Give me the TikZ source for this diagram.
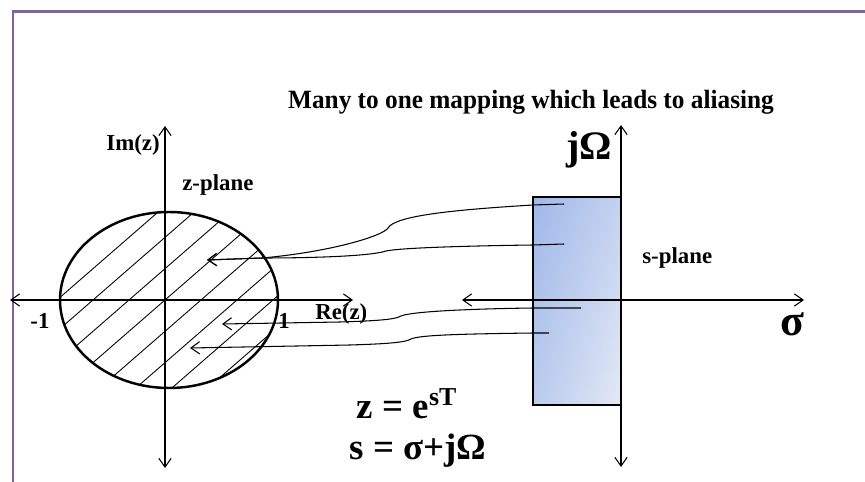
\documentclass[tikz,border=0pt]{standalone}
\usepackage{fontspec}
\setmainfont{Liberation Serif}
\usetikzlibrary{arrows.meta,shadings}
\definecolor{framepurple}{HTML}{8064A2}
\definecolor{bluetl}{HTML}{A0B8E8}
\definecolor{bluetr}{HTML}{C4D2F0}
\definecolor{bluebl}{HTML}{BACBEE}
\definecolor{bluebr}{HTML}{E3E9F6}
\tikzset{
  lbl/.style={font=\bfseries\fontsize{13}{15}\selectfont, inner sep=0pt},
  biglbl/.style={font=\bfseries\fontsize{21}{24}\selectfont, inner sep=0pt},
  axis/.style={line width=0.6pt, <->},
  maparrow/.style={line width=0.6pt, ->},
}
\begin{document}
\begin{tikzpicture}[x=0.02cm, y=-0.02cm, >={Straight Barb[length=5pt, width=7pt]}]
    \useasboundingbox (0,0) rectangle (865,482);

    % ===== FRAME =====
    \draw[framepurple, line width=1.7pt] (13,482) -- (13,12) -- (865,12);

    \node[lbl, font=\bfseries\fontsize{15}{17}\selectfont, xscale=0.96] (title) at (531,102)
        {Many to one mapping which leads to aliasing};

    % ===== Z-PLANE =====
    \def\zx{165}
    \def\zy{300}

    % tratteggio dentro il cerchio unitario
    \begin{scope}
        \clip (169,\zy) ellipse [x radius=109, y radius=88];
        \foreach \c in {-3,...,4} {
            \draw[line width=0.5pt] ({\zx+36*\c-120}, {\zy+0.87*120}) -- ({\zx+36*\c+120}, {\zy-0.87*120});
        }
    \end{scope}
    \draw[line width=1.4pt] (169,\zy) ellipse [x radius=109, y radius=88];

    \draw[axis] (10,\zy) -- (353,\zy);
    \draw[axis] (\zx,468) -- (\zx,126);

    \node[lbl, anchor=east] (imz) at (160,145) {Im(z)};
    \node[lbl, anchor=west] (zplane) at (182,185) {z-plane};
    \node[lbl] (mone) at (40,321) {-1};
    \node[lbl] (one) at (284,321) {1};
    \node[lbl, anchor=west] (rez) at (315,314) {Re(z)};

    % ===== S-PLANE =====
    \def\sx{621}

    \shade[upper left=bluetl, upper right=bluetr, lower left=bluebl, lower right=bluebr]
        (533,197) rectangle (\sx,405);
    \draw[axis] (462,\zy) -- (804,\zy);
    \draw[axis] (\sx,467) -- (\sx,125);
    \draw[line width=1.4pt] (533,197) rectangle (\sx,405);

    \node[biglbl, font=\bfseries\fontsize{23}{26}\selectfont] (jomega) at (589,150) {jΩ};
    \node[lbl, anchor=west] (splane) at (642,258) {s-plane};
    \node[biglbl, font=\bfseries\fontsize{25}{28}\selectfont] (sigma) at (792,324) {σ};

    \node[biglbl] (zmap) at (407,404) {z = e\textsuperscript{sT}};
    \node[biglbl] (smap) at (418,451) {s = σ+jΩ};

    % ===== MAPPING =====
    \coordinate (s1) at (564,204);
    \coordinate (s2) at (564,244);
    \coordinate (s3) at (581,308);
    \coordinate (s4) at (549,333);
    \coordinate (z1) at (207,260);
    \coordinate (z3) at (222,324);
    \coordinate (z4) at (190,348);

    \draw[maparrow] (s1) -- (533,205) .. controls (450,210) and (395,216) .. (388,228)
        .. controls (383,236) and (330,252) .. (262,258) -- (z1);
    \draw[maparrow] (s2) -- (533,245) .. controls (460,246) and (400,248) .. (386,251)
        .. controls (375,255) and (330,258) .. (262,258) -- (z1);
    \draw[maparrow] (s3) -- (533,308) .. controls (460,309) and (410,312) .. (401,316)
        .. controls (395,320) and (370,321) .. (340,322) -- (z3);
    \draw[maparrow] (s4) -- (533,333) .. controls (460,334) and (420,335) .. (411,339)
        .. controls (405,343) and (380,344) .. (350,345) -- (z4);
\end{tikzpicture}
\end{document}
